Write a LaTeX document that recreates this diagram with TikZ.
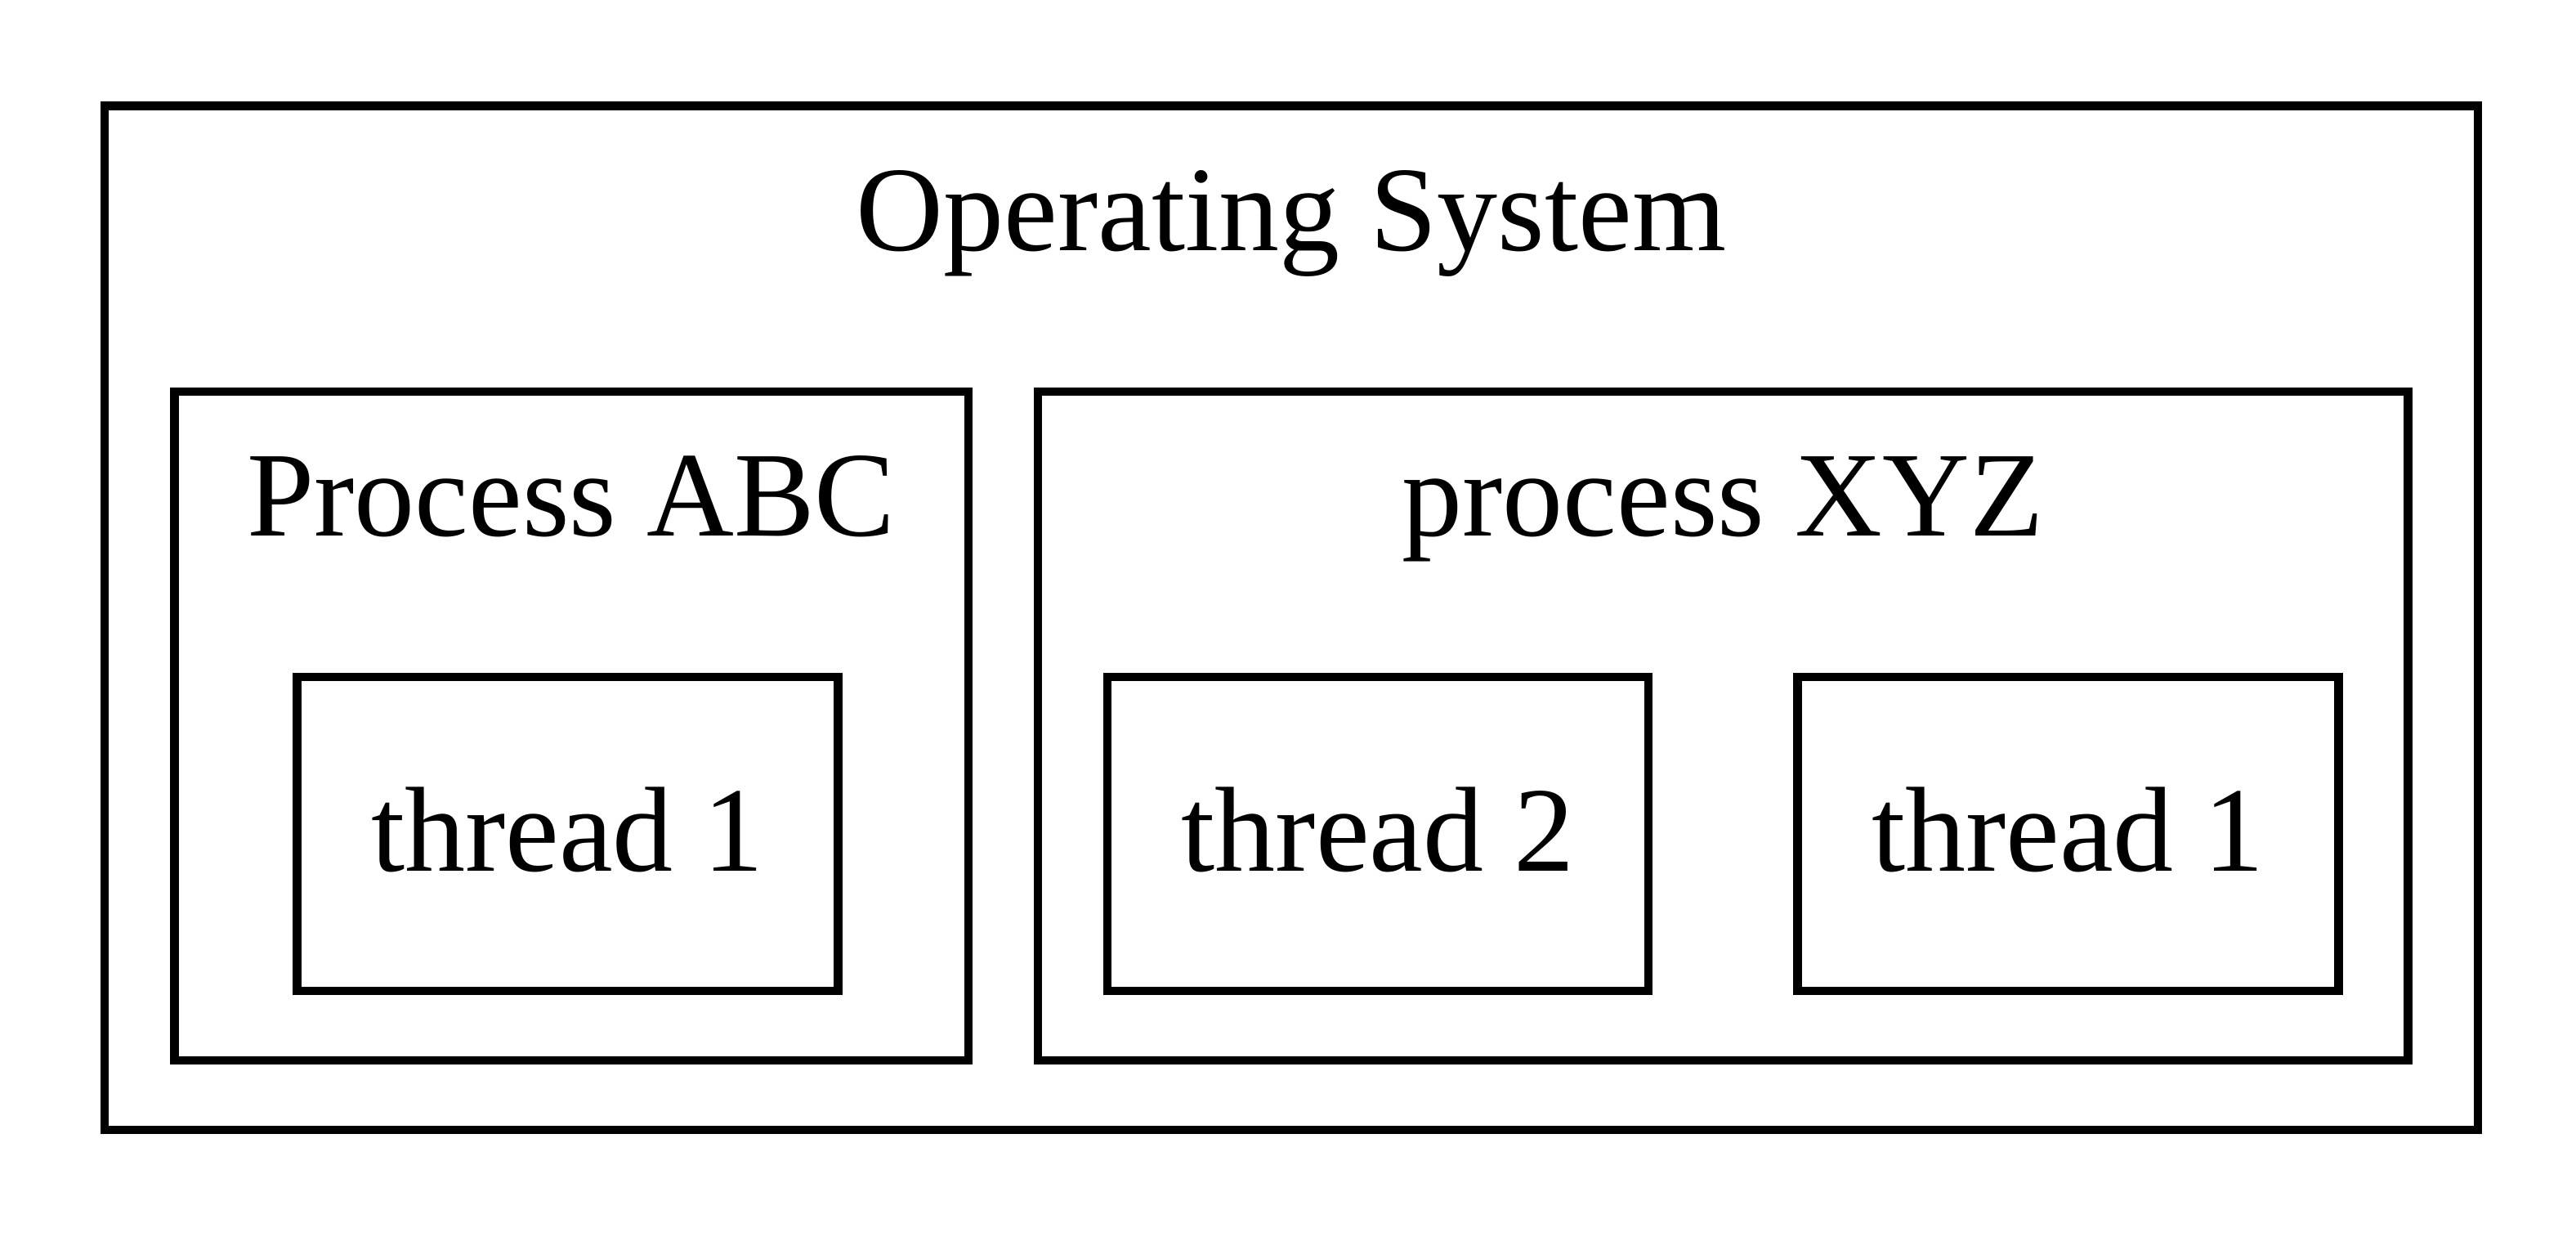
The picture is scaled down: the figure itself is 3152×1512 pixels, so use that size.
\documentclass[tikz,border=0pt]{standalone}
\usepackage{fontspec}
\setmainfont{Liberation Serif}
\usetikzlibrary{fit}
\begin{document}
\begin{tikzpicture}[x=0.0946pt,y=-0.0946pt,
  box/.style={draw=black,line width=1pt,inner sep=0pt},
  lbl/.style={anchor=base,inner sep=0pt,font=\fontsize{14pt}{16pt}\selectfont}]
\useasboundingbox (0,0) rectangle (3152,1512);
% corner coordinates
\coordinate (osA) at (128,129.5);   \coordinate (osB) at (3032,1382);
\coordinate (abcA) at (213.5,479);  \coordinate (abcB) at (1185,1297);
\coordinate (xyzA) at (1270,479);   \coordinate (xyzB) at (2946.5,1297);
\coordinate (taA) at (363.5,828);   \coordinate (taB) at (1025.5,1212);
\coordinate (tbA) at (1355,828);    \coordinate (tbB) at (2017,1212);
\coordinate (tcA) at (2199.5,828);  \coordinate (tcB) at (2861.5,1212);
% boxes
\node[box,fit=(osA)(osB)] (os) {};
\node[box,fit=(abcA)(abcB)] (abc) {};
\node[box,fit=(xyzA)(xyzB)] (xyz) {};
\node[box,fit=(taA)(taB)] (abct1) {};
\node[box,fit=(tbA)(tbB)] (xyzt2) {};
\node[box,fit=(tcA)(tcB)] (xyzt1) {};
% labels
\node[lbl] (oslbl) at (1580,306) {Operating System};
\node[lbl] (abclbl) at (699,655) {Process ABC};
\node[lbl] (xyzlbl) at (2108,655) {process XYZ};
\node[lbl] (abct1lbl) at (694.5,1065) {thread 1};
\node[lbl] (xyzt2lbl) at (1686,1065) {thread 2};
\node[lbl] (xyzt1lbl) at (2530.5,1065) {thread 1};
\end{tikzpicture}
\end{document}
